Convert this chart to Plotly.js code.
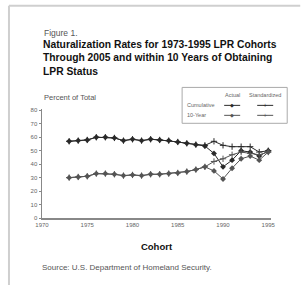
<!DOCTYPE html>
<html><head><meta charset="utf-8">
<script src="https://cdn.plot.ly/plotly-3.0.1.min.js"></script>
<style>html,body{margin:0;padding:0;background:#fff;}#chart{width:305px;height:285px;}</style>
</head><body><div id="chart"></div>
<script>
// Data
var cohorts = [1973,1974,1975,1976,1977,1978,1979,1980,1981,1982,1983,1984,1985,1986,1987,1988,1989,1990,1991,1992,1993,1994,1995];
var cumulativeActual = [57,57.5,58,60,60,59.5,57.5,58.5,57.5,58.5,58,57.5,56.5,55.5,54.5,53.5,48,38,43,50,49,46,50];
var cumulativeStandardized = [57,57.5,58,60,60,59.5,57.5,58.5,57.5,58.5,58,57.5,56.5,55.5,54.5,54,57,54,53,53,53,49,50];
var tenYearActual = [30,30.5,31,33,33,32.5,31.5,32,31.5,32.5,32.5,33,33.5,34.5,36,38,35,29,37,44,46,43,49];
var tenYearStandardized = [30,30.5,31,33,33,32.5,31.5,32,31.5,32.5,32.5,33,33.5,34.5,36,38,42,44,47,49,48,47,49];
var xTicks = [1970,1975,1980,1985,1990,1995];
var yTicks = [0,10,20,30,40,50,60,70,80];
var seriesNames = ['Cumulative','10-Year'];
var columnNames = ['Actual','Standardized'];

// geometry helpers (pixel -> paper)
var L=42, T=108.65, W=228.8, H=109.35;
function px(x){return (x-L)/W;}
function py(y){return (T+H-y)/H;}

var darkC='#2a2a2a', lightC='#555555';
function tr(y,name,color,sym){
  return {x:cohorts,y:y,name:name,type:'scatter',mode:'lines+markers',
    line:{color:color,width:1},marker:{symbol:sym,size:4.5,color:color},showlegend:false,cliponaxis:false};
}
var data=[
  tr(cumulativeActual,'Cumulative Actual',darkC,'diamond'),
  tr(cumulativeStandardized,'Cumulative Standardized',darkC,'cross-thin-open'),
  tr(tenYearActual,'10-Year Actual',lightC,'diamond'),
  tr(tenYearStandardized,'10-Year Standardized',lightC,'cross-thin-open')
];

var F='Liberation Sans, Arial, sans-serif';
var ann=[
  {text:'Figure 1.',x:px(42),y:py(32),xanchor:'left',yanchor:'middle',font:{family:F,size:8.5,color:'#555555'}},
  {text:'<b>Naturalization Rates for 1973-1995 LPR Cohorts<br>Through 2005 and within 10 Years of Obtaining<br>LPR Status</b>',x:px(41),y:py(57.5),xanchor:'left',yanchor:'middle',align:'left',font:{family:F,size:10.3,color:'#111111'}},
  {text:'Percent of Total',x:px(42),y:py(97),xanchor:'left',yanchor:'middle',font:{family:F,size:7.5,color:'#555555'}},
  {text:'Source: U.S. Department of Homeland Security.',x:px(40),y:py(268),xanchor:'left',yanchor:'middle',font:{family:F,size:8,color:'#555555'}},
  {text:columnNames[0],x:px(232),y:py(95),xanchor:'center',yanchor:'middle',font:{family:F,size:5.5,color:'#666666'}},
  {text:columnNames[1],x:px(265),y:py(95),xanchor:'center',yanchor:'middle',font:{family:F,size:5.5,color:'#666666'}},
  {text:seriesNames[0],x:px(185),y:py(105),xanchor:'left',yanchor:'middle',font:{family:F,size:5.5,color:'#666666'}},
  {text:seriesNames[1],x:px(185),y:py(115),xanchor:'left',yanchor:'middle',font:{family:F,size:5.5,color:'#666666'}}
];
ann.forEach(function(a){a.xref='paper';a.yref='paper';a.showarrow=false;});

var shapes=[
  {type:'line',xref:'paper',yref:'paper',x0:px(9),x1:px(9),y0:py(5),y1:py(290),line:{color:'#cfcfcf',width:2}},
  {type:'line',xref:'paper',yref:'paper',x0:px(9),x1:px(300),y0:py(5),y1:py(5),line:{color:'#cfcfcf',width:2}},
  {type:'rect',xref:'paper',yref:'paper',x0:px(182),x1:px(287),y0:py(87),y1:py(123),line:{color:'#aaaaaa',width:1},fillcolor:'#ffffff'}
];
// legend samples
var rows=[[105,darkC],[115,lightC]];
var cols=[[232,'diamond'],[265,'cross']];
rows.forEach(function(r){cols.forEach(function(c){
  shapes.push({type:'line',xref:'paper',yref:'paper',x0:px(c[0]-8),x1:px(c[0]+8),y0:py(r[0]),y1:py(r[0]),line:{color:r[1],width:1}});
  ann.push({text:c[1]==='diamond'?'◆':'+',x:px(c[0]),y:py(r[0]),xref:'paper',yref:'paper',showarrow:false,xanchor:'center',yanchor:'middle',font:{family:'DejaVu Sans',size:5,color:r[1]}});
});});

var layout={
  width:305,height:285,margin:{l:L,r:305-L-W,t:T,b:285-T-H,pad:0},
  paper_bgcolor:'#fff',plot_bgcolor:'#fff',showlegend:false,
  xaxis:{range:[1970,1995.3],tickvals:xTicks,showgrid:false,zeroline:false,showline:true,linecolor:'#888888',linewidth:1.5,
    ticks:'',tickfont:{family:F,size:6,color:'#666666'},
    title:{text:'<b>Cohort</b>',font:{family:F,size:9.5,color:'#111111'},standoff:16}},
  yaxis:{range:[0,81],tickvals:yTicks,showgrid:false,zeroline:false,showline:true,linecolor:'#888888',linewidth:1.5,
    ticks:'outside',ticklen:2,tickcolor:'#888888',tickfont:{family:F,size:6,color:'#666666'}},
  annotations:ann,shapes:shapes
};
Plotly.newPlot('chart',data,layout,{staticPlot:true,displayModeBar:false});
</script></body></html>
